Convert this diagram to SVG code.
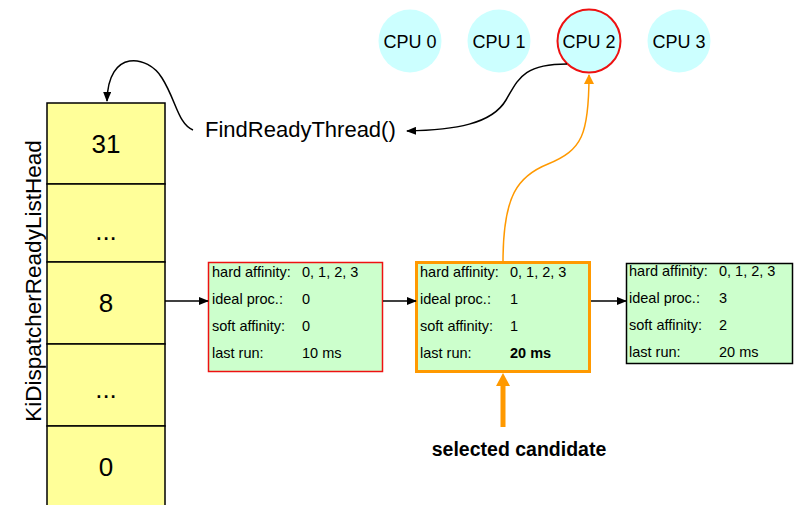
<svg xmlns="http://www.w3.org/2000/svg" width="794" height="505" viewBox="0 0 794 505">
<defs>
<style>
text{font-family:"Liberation Sans",Arial,sans-serif;fill:#000}
.cell{fill:#ffff99;stroke:#000;stroke-width:1.5}
.cn{font-size:26px;text-anchor:middle}
.box{fill:#ccffcc}
.t{font-size:14.5px}
.cpu{fill:#ccffff}
.ct{font-size:18px;text-anchor:middle}
.ln{fill:none;stroke:#000;stroke-width:1.5}
.or{fill:none;stroke:#ff9900;stroke-width:1.5}
</style>
<marker id="ab" markerWidth="10" markerHeight="8" refX="9" refY="4" orient="auto" markerUnits="userSpaceOnUse"><path d="M0,0 L10,4 L0,8 z" fill="#000"/></marker>
<marker id="ao" markerWidth="10" markerHeight="10" refX="9" refY="5" orient="auto" markerUnits="userSpaceOnUse"><path d="M0,0 L10,5 L0,10 z" fill="#ff9900"/></marker>
</defs>
<g id="stack">
<rect class="cell" x="47" y="103" width="118" height="81"/>
<rect class="cell" x="47" y="184" width="118" height="78"/>
<rect class="cell" x="47" y="262" width="118" height="82"/>
<rect class="cell" x="47" y="344" width="118" height="82"/>
<rect class="cell" x="47" y="426" width="118" height="85"/>
<text class="cn" x="106" y="153">31</text>
<text class="cn" x="106" y="240">...</text>
<text class="cn" x="106" y="312">8</text>
<text class="cn" x="106" y="398">...</text>
<text class="cn" x="106" y="476">0</text>
</g>
<g id="label"><text x="0" y="0" font-size="22.5" text-anchor="middle" transform="translate(41,281) rotate(-90)">KiDispatcherReadyListHead</text></g>
<g id="cpu0"><circle class="cpu" cx="410" cy="41" r="31.5"/><text class="ct" x="410" y="48">CPU 0</text></g>
<g id="cpu1"><circle class="cpu" cx="499" cy="41" r="31.5"/><text class="ct" x="499" y="48">CPU 1</text></g>
<g id="cpu2"><circle class="cpu" cx="589" cy="41" r="31.5" stroke="#ee1111" stroke-width="2"/><text class="ct" x="589" y="48">CPU 2</text></g>
<g id="cpu3"><circle class="cpu" cx="679" cy="41" r="31.5"/><text class="ct" x="679" y="48">CPU 3</text></g>
<g id="find"><text x="205" y="137" font-size="22">FindReadyThread()</text></g>
<g id="thread1">
<rect class="box" x="208.5" y="262.5" width="174" height="109" stroke="#ee1111" stroke-width="1.5"/>
<text class="t" x="212" y="277">hard affinity:</text><text class="t" x="302" y="277">0, 1, 2, 3</text>
<text class="t" x="212" y="304">ideal proc.:</text><text class="t" x="302" y="304">0</text>
<text class="t" x="212" y="331">soft affinity:</text><text class="t" x="302" y="331">0</text>
<text class="t" x="212" y="358">last run:</text><text class="t" x="302" y="358">10 ms</text>
</g>
<g id="thread2">
<rect class="box" x="416.5" y="262.5" width="173" height="109" stroke="#ff9900" stroke-width="3"/>
<text class="t" x="420" y="277">hard affinity:</text><text class="t" x="510" y="277">0, 1, 2, 3</text>
<text class="t" x="420" y="304">ideal proc.:</text><text class="t" x="510" y="304">1</text>
<text class="t" x="420" y="331">soft affinity:</text><text class="t" x="510" y="331">1</text>
<text class="t" x="420" y="358">last run:</text><text class="t" x="510" y="358" font-weight="bold">20 ms</text>
</g>
<g id="thread3">
<rect class="box" x="626.5" y="263.5" width="166" height="100" stroke="#000" stroke-width="1.5"/>
<text class="t" x="629" y="276">hard affinity:</text><text class="t" x="719" y="276">0, 1, 2, 3</text>
<text class="t" x="629" y="303">ideal proc.:</text><text class="t" x="719" y="303">3</text>
<text class="t" x="629" y="330">soft affinity:</text><text class="t" x="719" y="330">2</text>
<text class="t" x="629" y="357">last run:</text><text class="t" x="719" y="357">20 ms</text>
</g>
<g id="selected"><text x="519" y="456" font-size="19.5" font-weight="bold" text-anchor="middle">selected candidate</text></g>
<g id="connectors">
<line class="ln" x1="165" y1="301" x2="208" y2="301" marker-end="url(#ab)"/>
<line class="ln" x1="383" y1="301" x2="416" y2="301" marker-end="url(#ab)"/>
<line class="ln" x1="591" y1="301" x2="626" y2="301" marker-end="url(#ab)"/>
<path class="ln" d="M193,130 C178,124 176,100 162,78 C148,55 108,48 107,101" marker-end="url(#ab)"/>
<path class="ln" d="M567,64 C522,64 518,80 506,100 C492,124 455,130 407,131" marker-end="url(#ab)"/>
<path class="or" d="M503,262 C503,195 518,176 548,164 C582,150 589,135 589,75" marker-end="url(#ao)"/>
<line x1="503" y1="427" x2="503" y2="385" stroke="#ff9900" stroke-width="5"/>
<path d="M496,386 L503,373 L510,386 z" fill="#ff9900"/>
</g>
</svg>
